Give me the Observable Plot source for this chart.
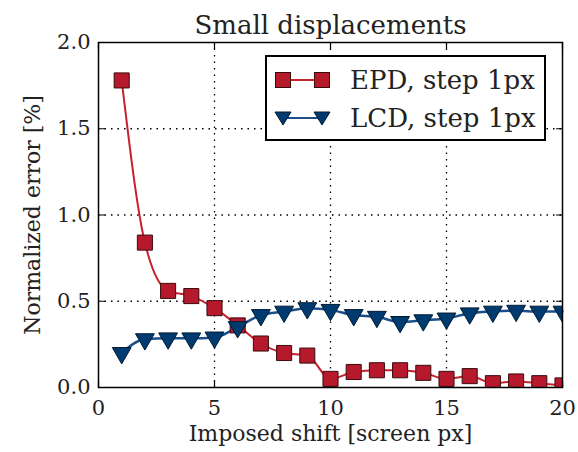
<!DOCTYPE html>
<html>
<head>
<meta charset="utf-8">
<script src="https://cdn.jsdelivr.net/npm/d3@7"></script>
<script src="https://cdn.jsdelivr.net/npm/@observablehq/plot@0.6"></script>
<style>
  html, body { margin: 0; padding: 0; background: #fff; }
  #wrap { position: relative; width: 578px; height: 452px; }
  #legend { position: absolute; left: 265px; top: 55px; width: 277px; height: 82px;
    border: 2px solid #000; background: #fff; font-family: "DejaVu Serif", serif; font-size: 26px; color: #222; }
  .row { position: absolute; left: 4px; height: 34px; display: flex; align-items: center; white-space: nowrap; }
  .row span { margin-left: 17px; }
</style>
</head>
<body>
<div id="wrap"></div>
<script>
const shifts = [1,2,3,4,5,6,7,8,9,10,11,12,13,14,15,16,17,18,19,20];
const epd = [1.78,0.84,0.56,0.53,0.46,0.36,0.255,0.20,0.185,0.05,0.09,0.10,0.10,0.085,0.05,0.066,0.025,0.035,0.025,0.012];
const lcd = [0.20,0.28,0.285,0.285,0.29,0.35,0.42,0.44,0.46,0.45,0.42,0.41,0.38,0.39,0.40,0.43,0.44,0.445,0.44,0.44];
const xTicks = [0,5,10,15,20];
const yTicks = [0,0.5,1.0,1.5,2.0];
const seriesNames = ["EPD, step 1px", "LCD, step 1px"];
const lineColors = ["#c8202f", "#1b4f8a"];
const fillColors = ["#b5192b", "#003b70"];
const edgeColors = ["#3a0b0e", "#001a33"];

const epdData = shifts.map((x,i) => ({x, y: epd[i]}));
const lcdData = shifts.map((x,i) => ({x, y: lcd[i]}));

const tickShape = {draw(context, l) { context.moveTo(0, 0); context.lineTo(0, -l); }};
const inTicks = (anchor) => {
  const common = {length: 6, anchor: "start", shape: tickShape, stroke: "#000", strokeWidth: 1.2};
  if (anchor === "bottom") return Plot.vector(xTicks, {...common, x: d => d, frameAnchor: "bottom", rotate: 0});
  if (anchor === "top") return Plot.vector(xTicks, {...common, x: d => d, frameAnchor: "top", rotate: 180});
  if (anchor === "left") return Plot.vector(yTicks, {...common, y: d => d, frameAnchor: "left", rotate: 90});
  return Plot.vector(yTicks, {...common, y: d => d, frameAnchor: "right", rotate: -90});
};

const font = "DejaVu Serif";
const plot = Plot.plot({
  width: 578, height: 452,
  marginLeft: 98, marginRight: 16, marginTop: 42, marginBottom: 65,
  style: {fontFamily: font, fontSize: "21px", color: "#222", background: "#fff"},
  x: {domain: [0,20], ticks: xTicks, label: null},
  y: {domain: [0,2], ticks: yTicks, label: null},
  marks: [
    Plot.gridX(xTicks.slice(1,-1), {stroke: "#000", strokeOpacity: 1, strokeDasharray: "1.5,5", strokeWidth: 1.3}),
    Plot.gridY(yTicks.slice(1,-1), {stroke: "#000", strokeOpacity: 1, strokeDasharray: "1.5,5", strokeWidth: 1.3}),
    Plot.axisX(xTicks, {anchor: "bottom", tickSize: 0, tickPadding: 13, tickFormat: d => String(d), fontSize: 21, fontWeight: "normal"}),
    Plot.axisY(yTicks, {anchor: "left", tickSize: 0, tickPadding: 8, tickFormat: d3.format(".1f"), fontSize: 21, fontWeight: "normal"}),
    inTicks("bottom"), inTicks("top"), inTicks("left"), inTicks("right"),
    Plot.line(lcdData, {x: "x", y: "y", stroke: lineColors[1], strokeWidth: 2.5, curve: "monotone-x"}),
    Plot.line(epdData, {x: "x", y: "y", stroke: lineColors[0], strokeWidth: 2, curve: "monotone-x"}),
    Plot.dot(epdData, {x: "x", y: "y", symbol: "square", r: 8.5, fill: fillColors[0], stroke: edgeColors[0], strokeWidth: 1, clip: true}),
    Plot.dot(lcdData, {x: "x", y: "y", symbol: "triangle", r: 7, rotate: 180, fill: fillColors[1], stroke: edgeColors[1], strokeWidth: 1, clip: true}),
    Plot.frame({stroke: "#000", strokeWidth: 1.5}),
    Plot.text(["Small displacements"], {frameAnchor: "top", dy: -27, fontSize: 26, fill: "#222"}),
    Plot.text(["Imposed shift [screen px]"], {frameAnchor: "bottom", dy: 53, fontSize: 22, fill: "#222"}),
    Plot.text(["Normalized error [%]"], {frameAnchor: "left", dx: -66, rotate: -90, textAnchor: "middle", fontSize: 22, fill: "#222"})
  ]
});
const wrap = document.getElementById("wrap");
wrap.appendChild(plot);

const legend = document.createElement("div");
legend.id = "legend";
const sq = (c, e) => `<rect x="-7.5" y="-7.5" width="15" height="15" fill="${c}" stroke="${e}"/>`;
const tri = (c, e) => `<path d="M-8,-6 L8,-6 L0,7 Z" fill="${c}" stroke="${e}"/>`;
const mk = [sq, tri];
seriesNames.forEach((name, i) => {
  const row = document.createElement("div");
  row.className = "row";
  row.style.top = (6 + i * 38) + "px";
  row.innerHTML = `<svg width="62" height="24"><g transform="translate(0,12)">
    <line x1="12" x2="51" y1="0" y2="0" stroke="${lineColors[i]}" stroke-width="2.2"/>
    <g transform="translate(12,0)">${mk[i](fillColors[i], edgeColors[i])}</g>
    <g transform="translate(51,0)">${mk[i](fillColors[i], edgeColors[i])}</g></g></svg><span>${name}</span>`;
  legend.appendChild(row);
});
wrap.appendChild(legend);
</script>
</body>
</html>
